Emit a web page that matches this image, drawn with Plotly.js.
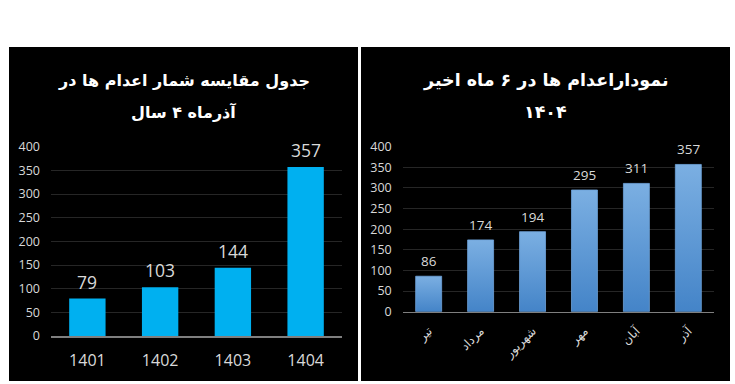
<!DOCTYPE html>
<html>
<head>
<meta charset="utf-8">
<script src="https://cdn.plot.ly/plotly-3.0.1.min.js"></script>
<style>
html,body{margin:0;padding:0;background:#fff;}
#chart{width:735px;height:384px;}
</style>
</head>
<body>
<div id="chart"></div>
<script>
// ---- data ----
const years = ['1401', '1402', '1403', '1404'];
const yearValues = [79, 103, 144, 357];
const months = ['تیر', 'مرداد', 'شهریور', 'مهر', 'آبان', 'آذر'];
const monthValues = [86, 174, 194, 295, 311, 357];
const leftTitle = ['جدول مقایسه شمار اعدام ها در', 'آذرماه ۴ سال'];
const rightTitle = ['نموداراعدام ها در ۶ ماه اخیر', '۱۴۰۴'];

// ---- layout helpers ----
const W = 735, H = 384;
const px = v => v / W;
const py = v => 1 - v / H;

const numFont = '"Open Sans", "Liberation Sans", sans-serif';
const arFont = '"DejaVu Sans", sans-serif';
const txtColor = '#d9d9d9';

const traces = [
  {
    type: 'bar', x: years, y: yearValues, xaxis: 'x', yaxis: 'y',
    marker: {color: '#00B0F0'}, hoverinfo: 'none'
  },
  {
    type: 'bar', x: months, y: monthValues, xaxis: 'x2', yaxis: 'y2',
    marker: {color: '#5B9BD5', line: {color: '#6FA3DA', width: 0.8}}, hoverinfo: 'none'
  }
];

const annotations = [];
years.forEach((c, i) => annotations.push({
  xref: 'x', yref: 'y', x: i, y: yearValues[i], text: String(yearValues[i]),
  showarrow: false, yanchor: 'middle', yshift: 17,
  font: {family: numFont, size: 17.5, color: txtColor}
}));
months.forEach((c, i) => annotations.push({
  xref: 'x2', yref: 'y2', x: i, y: monthValues[i], text: String(monthValues[i]),
  showarrow: false, yanchor: 'middle', yshift: 15,
  font: {family: numFont, size: 13.5, color: txtColor}
}));
[[leftTitle, 183.5, 16], [rightTitle, 545.5, 17.5]].forEach(([lines, cx, fs]) => {
  lines.forEach((t, k) => annotations.push({
    xref: 'paper', yref: 'paper', x: px(cx), y: py(k === 0 ? 80 : 112),
    xanchor: 'center', yanchor: 'middle', text: '<b>' + t + '</b>', showarrow: false,
    font: {family: arFont, size: fs, color: '#ffffff'}
  }));
});

const yCommon = {
  range: [0, 400], dtick: 50, tick0: 0, showgrid: true, gridcolor: '#262626', gridwidth: 1,
  zeroline: false, showline: false, ticks: '', ticklabelstandoff: 10,
  tickfont: {family: numFont, size: 12.5, color: txtColor}, fixedrange: true
};

const layout = {
  width: W, height: H,
  margin: {l: 0, r: 0, t: 0, b: 0},
  paper_bgcolor: '#ffffff', plot_bgcolor: '#000000',
  showlegend: false, bargap: 0.5,
  font: {family: numFont, color: txtColor},
  shapes: [
    {type: 'rect', xref: 'paper', yref: 'paper', x0: px(9), x1: px(358), y0: py(381), y1: py(47),
     fillcolor: '#000000', line: {width: 0}, layer: 'below'},
    {type: 'rect', xref: 'paper', yref: 'paper', x0: px(361), x1: px(730), y0: py(381), y1: py(47),
     fillcolor: '#000000', line: {width: 0}, layer: 'below'}
  ],
  xaxis: {
    domain: [px(51), px(342)], type: 'category', anchor: 'y', range: [-0.5, years.length - 0.5],
    showline: true, linecolor: '#7f7f7f', linewidth: 1.5, showgrid: false, zeroline: false,
    ticks: '', ticklabelstandoff: 9,
    tickfont: {family: numFont, size: 16, color: txtColor}, fixedrange: true
  },
  yaxis: Object.assign({}, yCommon, {domain: [1 - 336 / H, 1 - 146.7 / H], anchor: 'x'}),
  xaxis2: {
    domain: [px(402.7), px(714.3)], type: 'category', anchor: 'y2', range: [-0.5, months.length - 0.5],
    showline: true, linecolor: '#7f7f7f', linewidth: 1.5, showgrid: false, zeroline: false,
    ticks: '', tickangle: -45, ticklabelstandoff: 6,
    tickfont: {family: arFont, size: 12, color: txtColor}, fixedrange: true
  },
  yaxis2: Object.assign({}, yCommon, {domain: [1 - 311.7 / H, 1 - 146.7 / H], anchor: 'x2'}),
  annotations: annotations
};

Plotly.newPlot('chart', traces, layout, {staticPlot: true, displayModeBar: false}).then(gd => {
  const svg = gd.querySelector('svg.main-svg');
  const NS = 'http://www.w3.org/2000/svg';
  let defs = svg.querySelector('defs');
  if (!defs) { defs = document.createElementNS(NS, 'defs'); svg.insertBefore(defs, svg.firstChild); }
  const lg = document.createElementNS(NS, 'linearGradient');
  lg.setAttribute('id', 'barGrad');
  lg.setAttribute('x1', '0'); lg.setAttribute('y1', '0');
  lg.setAttribute('x2', '0'); lg.setAttribute('y2', '1');
  [['0', '#7BAFE2'], ['1', '#4484C8']].forEach(([o, c]) => {
    const s = document.createElementNS(NS, 'stop');
    s.setAttribute('offset', o); s.setAttribute('stop-color', c);
    lg.appendChild(s);
  });
  defs.appendChild(lg);
  gd.querySelectorAll('.subplot.x2y2 .bars path').forEach(p => { p.style.fill = 'url(#barGrad)'; });
});
</script>
</body>
</html>
